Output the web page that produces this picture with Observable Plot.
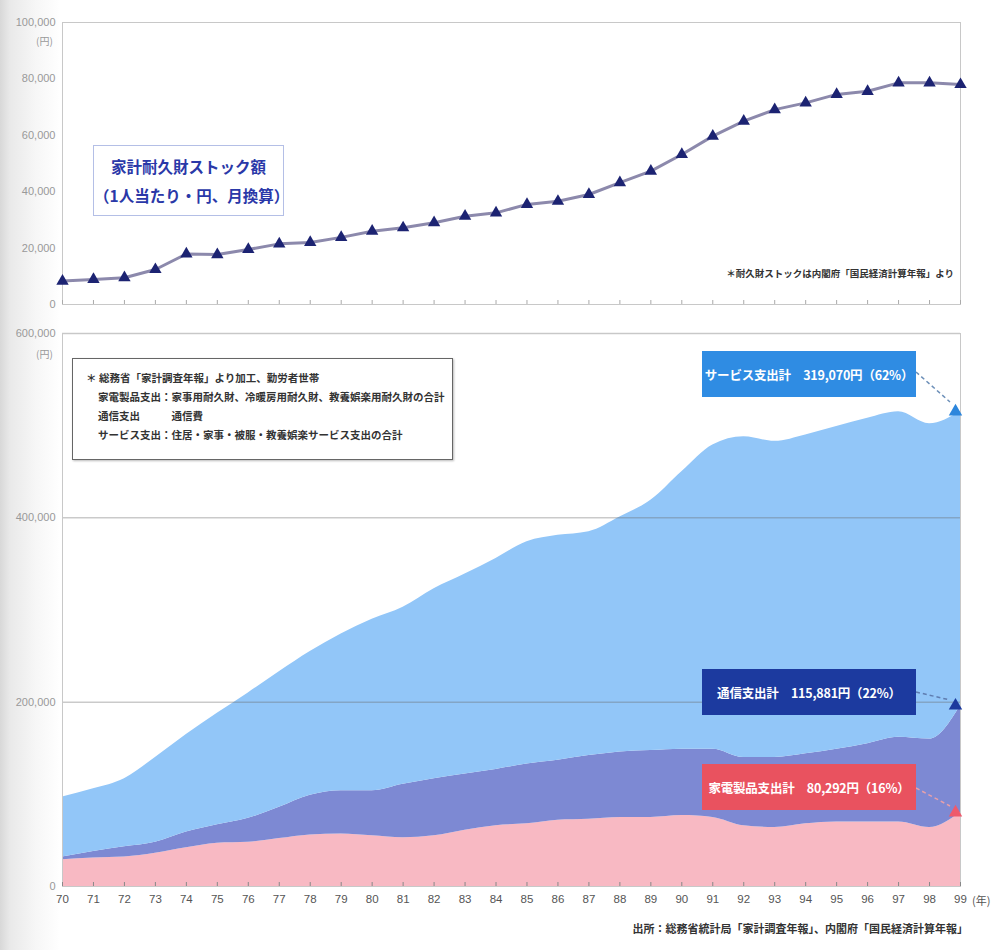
<!DOCTYPE html>
<html lang="ja">
<head>
<meta charset="utf-8">
<script src="https://cdn.jsdelivr.net/npm/d3@7"></script>
<script src="https://cdn.jsdelivr.net/npm/@observablehq/plot@0.6"></script>
<style>
  html, body { margin: 0; padding: 0; }
  body {
    width: 992px; height: 950px; overflow: hidden; position: relative;
    background: linear-gradient(to right, #d8d8d8 0px, #e9e9e9 10px, #f6f6f6 35px, #ffffff 60px);
    font-family: "Noto Sans CJK JP", "Noto Sans", sans-serif;
  }
  #stock, #spend { position: absolute; left: 0; }
  #stock { top: 0; }
  #spend { top: 320px; }
  .abs { position: absolute; }
  .title-box {
    left: 93px; top: 145px; width: 191px; height: 71px;
    border: 1px solid #b4bfe6; background: #fff;
    color: #2a38a8; font-weight: 700; font-size: 15.5px; line-height: 29px;
    text-align: center; padding-top: 6px; box-sizing: border-box;
  }
  .note { right: 38px; top: 266px; font-size: 9.5px; font-weight: 700; color: #333; white-space: nowrap; }
  .legend-box {
    left: 72px; top: 358px; width: 381px; height: 102px; box-sizing: border-box;
    border: 1px solid #666; background: #fff; box-shadow: 1px 1px 2px #bbb;
    font-size: 10.5px; font-weight: 700; color: #333; line-height: 19px; padding: 9px 0 0 13px;
    white-space: nowrap;
  }
  .legend-box .ind { padding-left: 12px; }
  .tag {
    left: 702px; width: 214px; height: 46px; display: flex; align-items: center; justify-content: center;
    color: #fff; font-weight: 700; font-size: 12.5px; white-space: nowrap; letter-spacing: -0.2px;
  }
  .caption { right: 24px; top: 920px; font-size: 11px; font-weight: 700; color: #333; white-space: nowrap; }
  .unit { font-size: 10px; color: #999; }
  .year-unit { left: 972px; top: 892px; font-size: 11px; color: #555; white-space: nowrap; }
</style>
</head>
<body>
<div id="stock"></div>
<div id="spend"></div>
<script>
// Fiscal years shown on the x axis (1970–1999)
const years = [1970, 1971, 1972, 1973, 1974, 1975, 1976, 1977, 1978, 1979,
               1980, 1981, 1982, 1983, 1984, 1985, 1986, 1987, 1988, 1989,
               1990, 1991, 1992, 1993, 1994, 1995, 1996, 1997, 1998, 1999];

// Household durable goods stock per person (yen, monthly basis)
const stockValues = [8300, 8900, 9500, 12400, 17900, 17700, 19500, 21500, 22000, 23800,
                     26000, 27200, 29000, 31300, 32500, 35500, 36600, 39000, 43200, 47300,
                     53200, 59700, 65000, 69100, 71500, 74500, 75600, 78600, 78600, 78000];

// Annual spending by category (yen), stacked bottom to top
const seriesNames = ["家電製品支出", "通信支出", "サービス支出"];
const applianceValues = [29000, 31000, 32000, 36000, 42000, 47000, 48000, 52000, 56000, 57000,
                         55000, 53000, 55000, 61000, 66000, 68000, 72000, 73000, 75000, 75000,
                         77000, 75000, 66000, 64000, 68000, 70000, 70000, 70000, 64000, 80292];
const communicationValues = [3000, 7000, 11000, 12000, 17000, 20000, 26000, 34000, 43000, 47000,
                             49000, 58000, 62000, 61000, 61000, 65000, 65000, 69000, 71000, 72500,
                             72000, 74000, 74000, 76000, 76000, 79000, 85000, 92000, 96000, 115881];
const serviceValues = [65000, 68000, 74000, 92000, 106000, 121000, 136000, 147000, 156000, 170000,
                       186000, 192000, 206000, 217000, 229000, 241000, 244000, 243000, 255000, 271500,
                       301000, 330000, 348000, 343000, 346000, 350000, 353000, 353000, 342000, 319070];

const stockTicks = [0, 20000, 40000, 60000, 80000, 100000];
const spendTicks = [0, 200000, 400000, 600000];

const seriesFill = ["#f8b9c3", "#7d89d3", "#92c6f8"];
const markerFill = ["#ee5a6c", "#1d3a9e", "#2d86dc"];

const W = 992;
const fmt = d3.format(",");
const yearLabel = d => String(d).slice(2);

// ---- upper panel: durable goods stock ----
const stockData = years.map((year, i) => ({year, value: stockValues[i]}));

const stockChart = Plot.plot({
  width: W, height: 320,
  marginLeft: 62, marginRight: 32, marginTop: 22, marginBottom: 16,
  style: {background: "transparent", fontFamily: "'Liberation Sans Narrow', 'Liberation Sans', sans-serif"},
  x: {domain: [1970, 1999]},
  y: {domain: [0, 100000]},
  marks: [
    Plot.frame({stroke: "#c8c8c8"}),
    Plot.axisY({ticks: stockTicks, tickFormat: fmt, tickSize: 0, tickPadding: 7, fontSize: 11, fill: "#999", label: null}),
    Plot.axisX({ticks: years, tickSize: -4, tickFormat: () => "", stroke: "#aaa", label: null}),
    Plot.line(stockData, {x: "year", y: "value", stroke: "#8c89ac", strokeWidth: 3}),
    Plot.dot(stockData, {x: "year", y: "value", symbol: "triangle", r: 4.6, fill: "#1c2372", stroke: "none"})
  ]
});
document.getElementById("stock").append(stockChart);

// ---- lower panel: stacked spending ----
const columns = [applianceValues, communicationValues, serviceValues];
const spendData = seriesNames.flatMap((name, s) =>
  years.map((year, i) => ({year, series: name, value: columns[s][i]})));

// end-of-series markers sit on the cumulative top of each band in 1999
const last = years.length - 1;
let running = 0;
const ends = seriesNames.map((name, s) => {
  running += columns[s][last];
  return {year: years[last], series: name, top: running};
});

const spendChart = Plot.plot({
  width: W, height: 600,
  marginLeft: 62, marginRight: 32, marginTop: 13, marginBottom: 34,
  style: {background: "transparent", fontFamily: "'Liberation Sans Narrow', 'Liberation Sans', sans-serif"},
  x: {domain: [1970, 1999]},
  y: {domain: [0, 600000]},
  color: {domain: seriesNames, range: seriesFill},
  marks: [
    Plot.areaY(spendData, {x: "year", y: "value", fill: "series", order: seriesNames, curve: "monotone-x"}),
    Plot.ruleY(spendTicks.slice(1), {stroke: "#666", strokeOpacity: 0.35, strokeWidth: 1.5}),
    Plot.frame({stroke: "#c8c8c8"}),
    Plot.axisY({ticks: spendTicks, tickFormat: fmt, tickSize: 0, tickPadding: 7, fontSize: 11, fill: "#999", label: null}),
    Plot.axisX({ticks: years, tickSize: -4, tickFormat: () => "", stroke: "#888", label: null}),
    Plot.axisX({ticks: years, tickSize: 0, tickPadding: 8, tickFormat: yearLabel, fontSize: 11.5, fill: "#555", label: null}),
    Plot.dot(ends, {x: "year", y: "top", symbol: "triangle", r: 5, dx: -5,
                    fill: d => markerFill[seriesNames.indexOf(d.series)], stroke: "none"})
  ]
});
document.getElementById("spend").append(spendChart);
</script>

<!-- axis units -->
<div class="abs unit" style="left:36px; top:33px;">(円)</div>
<div class="abs unit" style="left:36px; top:346px;">(円)</div>
<div class="abs year-unit">(年)</div>

<!-- upper panel annotations -->
<div class="abs title-box">家計耐久財ストック額<br>（1人当たり・円、月換算）</div>
<div class="abs note">＊耐久財ストックは内閣府「国民経済計算年報」より</div>

<!-- lower panel annotations -->
<div class="abs legend-box">
  ＊ 総務省「家計調査年報」より加工、勤労者世帯<br>
  <span class="ind">家電製品支出：家事用耐久財、冷暖房用耐久財、教養娯楽用耐久財の合計</span><br>
  <span class="ind">通信支出　　　通信費</span><br>
  <span class="ind">サービス支出：住居・家事・被服・教養娯楽サービス支出の合計</span>
</div>

<svg class="abs" style="left:0; top:0;" width="992" height="950" pointer-events="none">
  <line x1="916" y1="372" x2="950" y2="402" stroke="#6c8fb8" stroke-width="1.5" stroke-dasharray="4 3"/>
  <line x1="916" y1="692" x2="950" y2="700" stroke="#5f7db0" stroke-width="1.5" stroke-dasharray="4 3"/>
  <line x1="916" y1="788" x2="950" y2="806" stroke="#e8a0aa" stroke-width="1.5" stroke-dasharray="4 3"/>
</svg>

<div class="abs tag" style="top:351px; background:#2f8ce3;">サービス支出計　319,070円（62%）</div>
<div class="abs tag" style="top:669px; background:#1c3a9f;">通信支出計　115,881円（22%）</div>
<div class="abs tag" style="top:764px; background:#e9525f;">家電製品支出計　80,292円（16%）</div>

<div class="abs caption">出所：総務省統計局「家計調査年報」、内閣府「国民経済計算年報」</div>
</body>
</html>
